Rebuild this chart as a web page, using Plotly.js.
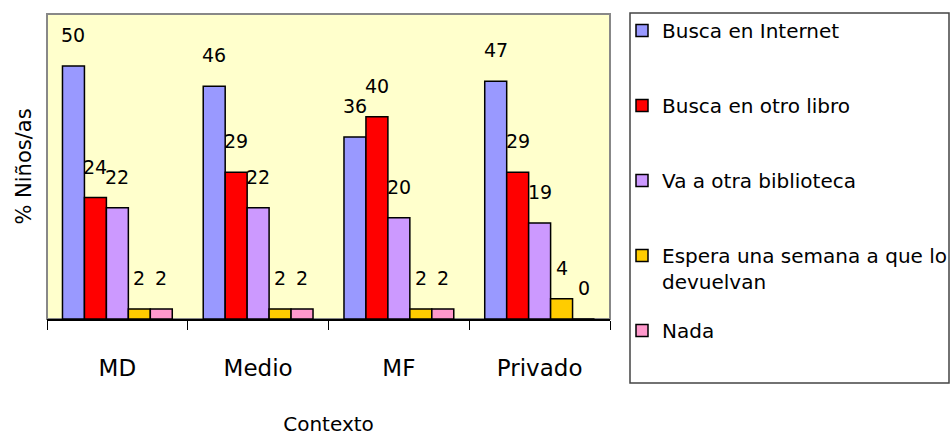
<!DOCTYPE html>
<html>
<head>
<meta charset="utf-8">
<script src="https://cdn.plot.ly/plotly-3.0.1.min.js"></script>
<style>html,body{margin:0;padding:0;background:#fff}#chart{width:950px;height:436px}</style>
</head>
<body>
<div id="chart"></div>
<script>
var categories = ["MD", "Medio", "MF", "Privado"];
var seriesNames = ["Busca en Internet", "Busca en otro libro", "Va a otra biblioteca", "Espera una semana a que lo<br>devuelvan", "Nada"];
var internet   = [50, 46, 36, 47];
var otroLibro  = [24, 29, 40, 29];
var biblioteca = [22, 22, 20, 19];
var espera     = [2, 2, 2, 4];
var nada       = [2, 2, 2, 0];

var seriesValues = [internet, otroLibro, biblioteca, espera, nada];
var colors = ["#9999FF", "#FF0000", "#CC99FF", "#FFCC00", "#FF99CC"];
var FONT = "DejaVu Sans, sans-serif";
var bargap = 0.22;
var nSeries = seriesValues.length;
var barW = (1 - bargap) / nSeries;

var traces = seriesValues.map(function (vals, j) {
  return {
    type: "bar",
    name: seriesNames[j],
    x: categories,
    y: vals,
    marker: { color: colors[j], line: { color: "#000", width: 1.5 } },
    legend: j === nSeries - 1 ? "legend2" : "legend",
    legendgroup: "g" + j,
    hoverinfo: "skip"
  };
});

var annotations = [];
seriesValues.forEach(function (vals, j) {
  vals.forEach(function (v, i) {
    annotations.push({
      x: i + (j - (nSeries - 1) / 2) * barW,
      y: v,
      xref: "x", yref: "y",
      text: String(v),
      showarrow: false,
      yshift: 31,
      xanchor: "center", yanchor: "middle",
      font: { family: FONT, size: 19, color: "#000" }
    });
  });
});

var pl = 47, pr = 610, pt = 14, pb = 319;
function px(x) { return (x - pl) / (pr - pl); }
function py(y) { return (pb - y) / (pb - pt); }

var layout = {
  width: 950, height: 436,
  margin: { l: pl, r: 950 - pr, t: pt, b: 436 - pb, pad: 0, autoexpand: false },
  paper_bgcolor: "#fff",
  plot_bgcolor: "#FFFFCC",
  barmode: "group",
  bargap: bargap,
  bargroupgap: 0,
  font: { family: FONT, color: "#000" },
  showlegend: true,
  xaxis: {
    type: "category",
    tickson: "boundaries",
    ticks: "outside", ticklen: 9, tickcolor: "#000", tickwidth: 1,
    showline: true, linecolor: "#000", linewidth: 1.5,
    showgrid: false, zeroline: false,
    tickfont: { family: FONT, size: 23, color: "#000" },
    ticklabelstandoff: 28,
    title: { text: "Contexto", font: { family: FONT, size: 20, color: "#000" }, standoff: 38 },
    automargin: false
  },
  yaxis: {
    range: [0, 60.3],
    showticklabels: false, ticks: "",
    showgrid: false, zeroline: false, showline: false,
    title: { text: "% Niños/as", font: { family: FONT, size: 21, color: "#000" }, standoff: 8 },
    automargin: false
  },
  legend: {
    x: px(622), y: py(11), xanchor: "left", yanchor: "top",
    bgcolor: "rgba(0,0,0,0)", borderwidth: 0,
    font: { family: FONT, size: 20, color: "#000" },
    traceorder: "grouped", tracegroupgap: 46,
    itemwidth: 30, valign: "top", maxheight: 400
  },
  legend2: {
    x: px(622), y: py(311), xanchor: "left", yanchor: "top",
    bgcolor: "rgba(0,0,0,0)", borderwidth: 0,
    font: { family: FONT, size: 20, color: "#000" },
    itemwidth: 30, maxheight: 400
  },
  shapes: [
    { type: "rect", xref: "paper", yref: "paper", x0: 0, x1: 1, y0: 0, y1: 1,
      line: { color: "#888", width: 2 }, fillcolor: "rgba(0,0,0,0)", layer: "below" },
    { type: "rect", xref: "paper", yref: "paper", x0: px(630), x1: px(949), y0: py(383), y1: py(13),
      line: { color: "#444", width: 1.5 }, fillcolor: "rgba(0,0,0,0)" }
  ],
  annotations: annotations
};

Plotly.newPlot("chart", traces, layout, { staticPlot: true, displayModeBar: false });
</script>
</body>
</html>
